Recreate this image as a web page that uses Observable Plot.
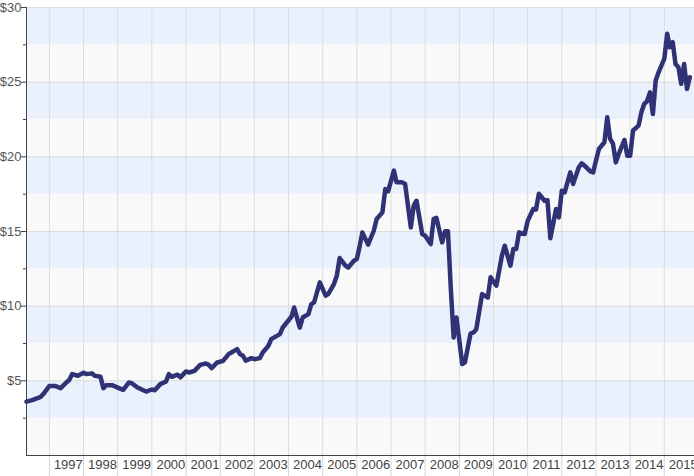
<!DOCTYPE html>
<html>
<head>
<meta charset="utf-8">
<script src="https://cdn.jsdelivr.net/npm/d3@7"></script>
<script src="https://cdn.jsdelivr.net/npm/@observablehq/plot@0.6"></script>
<style>
  body { margin: 0; background: #fff; }
  #chart svg { display: block; }
</style>
</head>
<body>
<div id="chart"></div>
<script>
// monthly closing prices
const months = [
  "1996-05","1996-07","1996-10","1996-11","1997-01","1997-03","1997-05","1997-07","1997-08","1997-09",
  "1997-11","1998-01","1998-02","1998-04","1998-05","1998-07","1998-08","1998-09","1998-11","1999-01",
  "1999-03","1999-05","1999-06","1999-08","1999-11","2000-01","2000-02","2000-04","2000-06","2000-07",
  "2000-08","2000-10","2000-11","2001-01","2001-02","2001-04","2001-06","2001-08","2001-09","2001-10",
  "2001-12","2002-02","2002-04","2002-05","2002-07","2002-08","2002-09","2002-10","2002-12","2003-01",
  "2003-03","2003-04","2003-06","2003-07","2003-10","2003-11","2004-02","2004-03","2004-05","2004-06",
  "2004-08","2004-09","2004-10","2004-12","2005-02","2005-03","2005-05","2005-06","2005-07","2005-09",
  "2005-10","2005-12","2006-01","2006-02","2006-03","2006-05","2006-07","2006-08","2006-10","2006-11",
  "2006-12","2007-02","2007-03","2007-05","2007-06","2007-08","2007-09","2007-10","2007-12","2008-01",
  "2008-03","2008-04","2008-05","2008-07","2008-08","2008-09","2008-10","2008-11","2008-12","2009-02",
  "2009-03","2009-05","2009-06","2009-07","2009-09","2009-11","2009-12","2010-02","2010-04","2010-05",
  "2010-07","2010-08","2010-09","2010-10","2010-12","2011-01","2011-03","2011-04","2011-05","2011-07",
  "2011-08","2011-09","2011-11","2011-12","2012-01","2012-02","2012-04","2012-05","2012-07","2012-08",
  "2012-09","2012-11","2012-12","2013-01","2013-02","2013-04","2013-05","2013-06","2013-07","2013-08",
  "2013-09","2013-11","2013-12","2014-01","2014-02","2014-04","2014-05","2014-06","2014-07","2014-08",
  "2014-09","2014-10","2014-11","2014-12","2015-01","2015-02","2015-03","2015-04","2015-05","2015-06",
  "2015-07","2015-08","2015-09","2015-10"
]
const prices = [
  3.61, 3.71, 3.93, 4.15, 4.66, 4.66, 4.51, 4.89, 5.05, 5.45,
  5.34, 5.54, 5.45, 5.50, 5.34, 5.27, 4.51, 4.71, 4.71, 4.55,
  4.40, 4.89, 4.84, 4.55, 4.28, 4.42, 4.37, 4.78, 4.96, 5.45,
  5.27, 5.41, 5.23, 5.63, 5.56, 5.67, 6.07, 6.16, 6.07, 5.85,
  6.23, 6.34, 6.79, 6.90, 7.12, 6.79, 6.68, 6.35, 6.52, 6.45,
  6.52, 6.90, 7.35, 7.79, 8.13, 8.57, 9.29, 9.91, 8.57, 9.24,
  9.47, 10.14, 10.25, 11.59, 10.70, 10.81, 11.48, 12.04, 13.22, 12.71,
  12.59, 13.04, 13.15, 14.05, 14.94, 14.12, 15.05, 15.84, 16.28, 17.85,
  17.69, 19.08, 18.29, 18.29, 18.18, 15.27, 16.73, 17.06, 14.83, 14.72,
  14.16, 15.84, 15.91, 14.27, 15.01, 15.01, 11.25, 7.90, 9.24, 6.12,
  6.23, 8.17, 8.24, 8.46, 10.81, 10.58, 11.93, 11.37, 13.38, 14.05,
  12.71, 13.83, 13.83, 14.94, 14.83, 15.70, 16.50, 16.48, 17.53, 17.06,
  17.10, 14.55, 16.51, 15.95, 17.73, 17.62, 18.96, 18.18, 19.30, 19.57,
  19.41, 19.03, 18.96, 19.75, 20.53, 20.98, 22.65, 21.20, 20.88, 19.63,
  20.19, 21.13, 20.08, 20.08, 21.76, 22.09, 22.98, 23.55, 23.72, 24.32,
  22.87, 25.11, 25.66, 26.10, 26.56, 28.24, 27.34, 27.68, 26.22, 26.00,
  24.89, 26.22, 24.55, 25.33
]
const years = d3.range(1997, 2016)
const priceLabels = [5, 10, 15, 20, 25, 30]
const priceMinor = [2.5, 7.5, 12.5, 17.5, 22.5, 27.5]

const parseMonth = d3.utcParse("%Y-%m")
const data = months.map((m, i) => ({date: parseMonth(m), price: prices[i]}))
const yearStarts = years.map(y => new Date(Date.UTC(y, 0, 1)))
const yearMids = years.map(y => new Date(Date.UTC(y, 6, 1)))
// blue stripes sit between each minor tick and the label above it
const bands = priceMinor.map((lo, i) => ({lo, hi: priceLabels[i]}))
const xDomain = [new Date(Date.UTC(1996, 4, 1)), new Date(Date.UTC(2015, 10, 20))]

let chart = Plot.plot({
  width: 694,
  height: 476,
  marginLeft: 26,
  marginRight: 0,
  marginTop: 7,
  marginBottom: 21,
  style: {fontFamily: "'Liberation Sans', Arial, sans-serif", fontSize: "13px", color: "#444", background: "#fff"},
  x: {type: "utc", domain: xDomain, label: null},
  y: {domain: [0, 30], label: null},
  marks: [
    Plot.frame({fill: "#f9f9f9", stroke: null}),
    Plot.rect(bands, {y1: "lo", y2: "hi", fill: "#eaf1fd"}),
    Plot.gridY(priceLabels, {stroke: "#dcdcdc", strokeOpacity: 1}),
    Plot.gridX(yearStarts, {stroke: "#dcdcdc", strokeOpacity: 1}),
    Plot.axisX(yearStarts, {tickSize: 21, tickFormat: () => "", stroke: "#d6d6d6"}),
    Plot.axisX(yearMids, {tickSize: 0, tickPadding: 4, dx: 2, tickFormat: d3.utcFormat("%Y"), fill: "#444"}),
    Plot.axisY(priceMinor, {tickSize: 3, tickFormat: () => "", stroke: "#444"}),
    Plot.axisY(priceLabels, {tickSize: 5, tickPadding: 0, tickFormat: d => "$" + d, stroke: "#444", fill: "#555"}),
    Plot.lineY(data, {x: "date", y: "price", stroke: "#2f3275", strokeWidth: 4.5, strokeLinejoin: "round", strokeLinecap: "round"}),
    Plot.ruleY([0], {stroke: "#444"}),
    Plot.ruleX([xDomain[0]], {stroke: "#444"})
  ]
})
d3.select("#chart").append(() => chart)
</script>
</body>
</html>
